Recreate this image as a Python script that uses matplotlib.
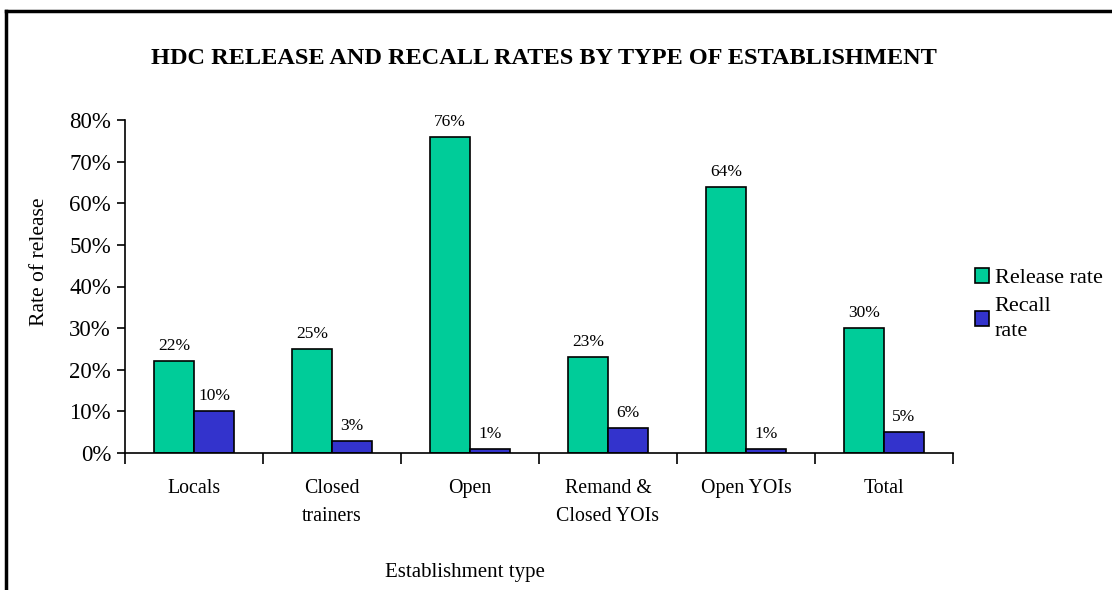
import matplotlib.pyplot as plt
import numpy as np
from matplotlib.ticker import PercentFormatter
from matplotlib.lines import Line2D

plt.rcParams['font.family'] = 'Liberation Serif'

categories = ['Locals', 'Closed\ntrainers', 'Open', 'Remand &\nClosed YOIs', 'Open YOIs', 'Total']
release_rate = [22, 25, 76, 23, 64, 30]
recall_rate = [10, 3, 1, 6, 1, 5]

GREEN = '#00CC99'
BLUE = '#3333CC'

fig = plt.figure(figsize=(11.12, 5.90), dpi=100)
ax = fig.add_axes([125 / 1112, 137 / 590, 828 / 1112, 333 / 590])

x = np.arange(len(categories))
w = 0.29
b1 = ax.bar(x - w / 2, release_rate, w, color=GREEN, edgecolor='black', linewidth=1.2, label='Release rate')
b2 = ax.bar(x + w / 2, recall_rate, w, color=BLUE, edgecolor='black', linewidth=1.2, label='Recall\nrate')

for bars, vals in ((b1, release_rate), (b2, recall_rate)):
    for r, v in zip(bars, vals):
        ax.annotate(f'{v}%', (r.get_x() + r.get_width() / 2, v), xytext=(0, 5),
                    textcoords='offset points', ha='center', va='bottom', fontsize=12.5)

ax.set_xlim(-0.5, len(categories) - 0.5)
ax.set_ylim(0, 80)
ax.set_yticks(range(0, 81, 10))
ax.yaxis.set_major_formatter(PercentFormatter(decimals=0))
ax.tick_params(axis='y', direction='out', length=6, width=1.2, labelsize=16.5, pad=4)

# boundary ticks between groups, labels sit on minor ticks at group centres
ax.set_xticks(np.arange(-0.5, len(categories)), labels=[])
ax.set_xticks(x, labels=categories, minor=True)
ax.tick_params(axis='x', which='major', direction='out', length=8, width=1.2)
ax.tick_params(axis='x', which='minor', length=0, pad=19, labelsize=14.3)
for lbl in ax.get_xticklabels(minor=True):
    lbl.set_va('top')
    lbl.set_linespacing(1.6)

for s in ('top', 'right'):
    ax.spines[s].set_visible(False)
for s in ('left', 'bottom'):
    ax.spines[s].set_linewidth(1.2)

fig.text(40 / 1112, 1 - 262 / 590, 'Rate of release', rotation=90, ha='center', va='center', fontsize=15.6)
fig.text(465 / 1112, 1 - 572 / 590, 'Establishment type', ha='center', va='center', fontsize=15)
fig.text(544 / 1112, 1 - 58 / 590, 'HDC RELEASE AND RECALL RATES BY TYPE OF ESTABLISHMENT',
         ha='center', va='center', fontsize=17.5, fontweight='bold')

leg = ax.legend(loc='upper left', bbox_to_anchor=(975 / 1112, 1 - 268 / 590), bbox_transform=fig.transFigure,
                frameon=False, fontsize=16, handlelength=0.63, handleheight=0.63, handletextpad=0.25,
                labelspacing=0.4, borderaxespad=0, borderpad=0)
for t in leg.get_texts():
    t.set_linespacing(1.45)

# outer frame, only left and top edges fall inside the image
fig.add_artist(Line2D([6 / 1112, 6 / 1112], [0, 1 - 11 / 590], color='black', linewidth=2.5,
                      transform=fig.transFigure))
fig.add_artist(Line2D([6 / 1112, 1], [1 - 11 / 590, 1 - 11 / 590], color='black', linewidth=2.5,
                      transform=fig.transFigure))

fig.savefig('out.png', dpi=100)
